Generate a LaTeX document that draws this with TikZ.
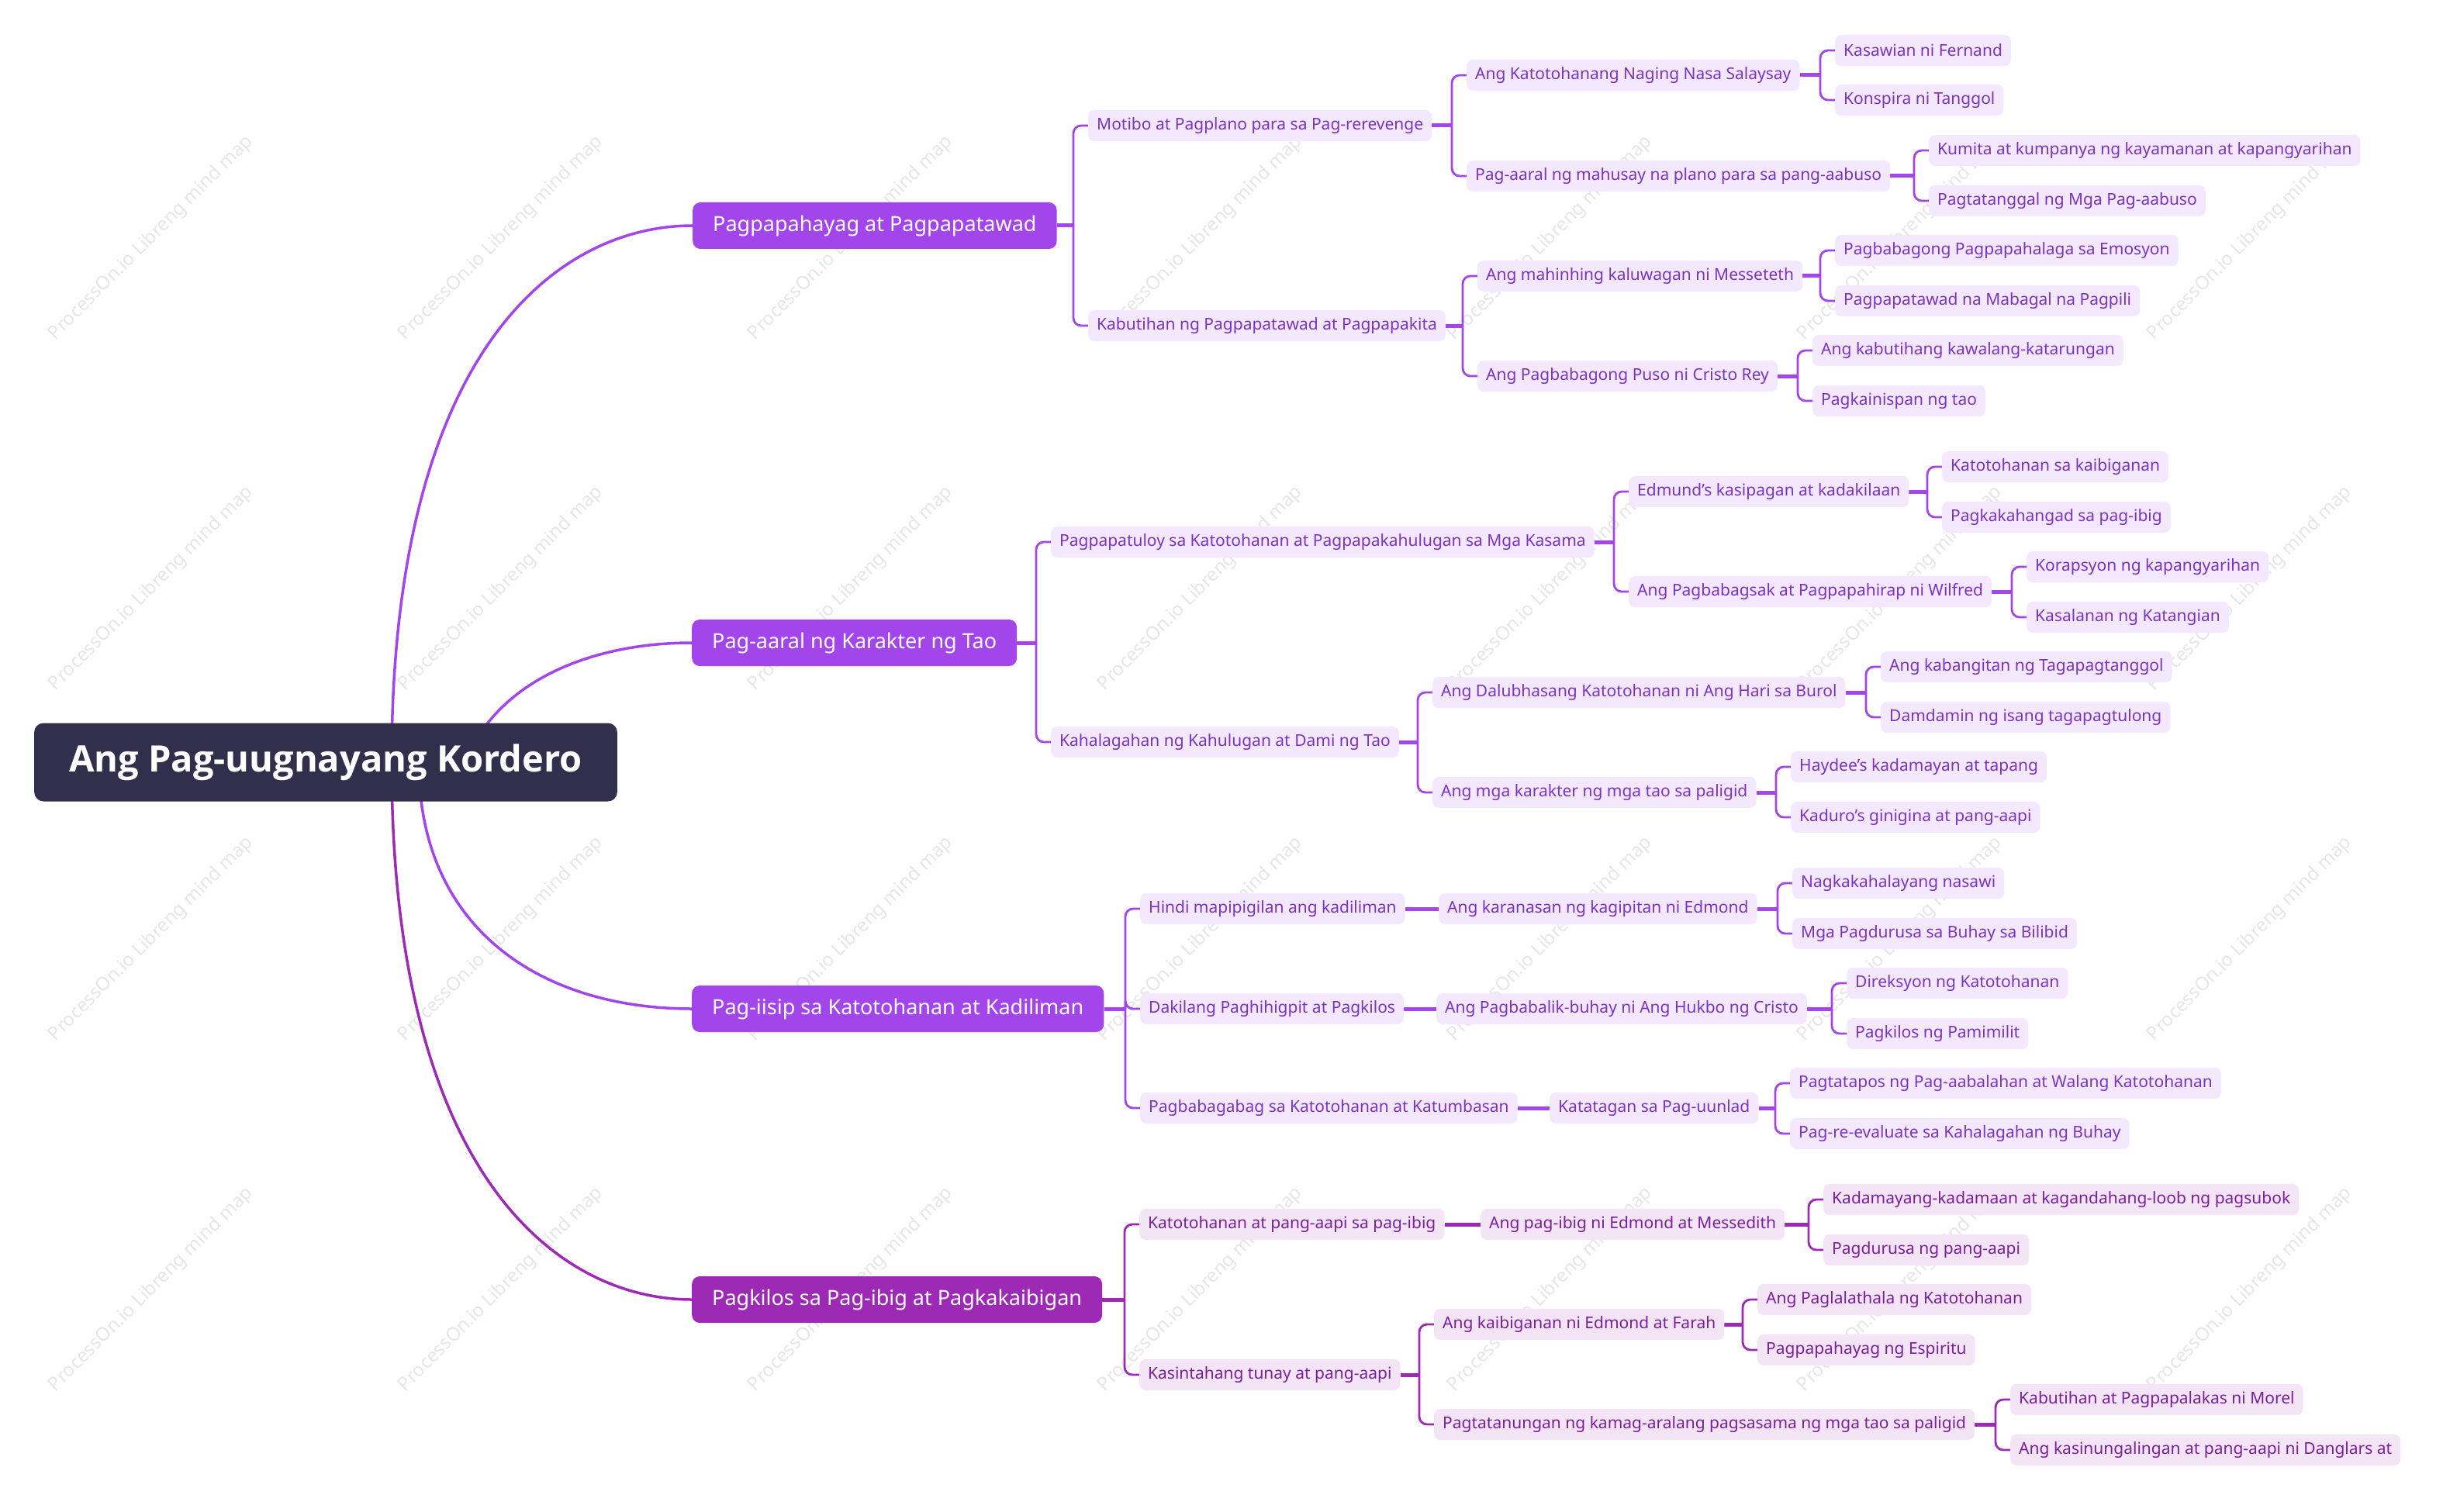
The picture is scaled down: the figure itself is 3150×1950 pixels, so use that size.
\documentclass[tikz,border=0pt]{standalone}
\usepackage{fontspec}
\setmainfont{Noto Sans}
\newfontfamily\rootfont{Open Sans}
\usetikzlibrary{calc,backgrounds}

\definecolor{brA}{HTML}{A246EB}
\definecolor{brAfill}{HTML}{F3E8FD}
\definecolor{brAtext}{HTML}{7B33C2}
\definecolor{brB}{HTML}{9C2AB5}
\definecolor{brBfill}{HTML}{F3E5F6}
\definecolor{brBtext}{HTML}{7A1F9C}
\definecolor{rootfill}{HTML}{312F4B}
\definecolor{wmark}{HTML}{E6E6E6}

\begin{document}
\begin{tikzpicture}[x=1pt, y=-1pt,
    root/.style={fill=rootfill, text=white, rounded corners=12pt,
      font=\rootfont\bfseries\fontsize{47}{52}\selectfont, inner xsep=45pt, minimum height=101pt},
    topic/.style={anchor=west, fill=brA, text=white, rounded corners=10pt,
      font=\fontsize{27}{32}\selectfont, inner xsep=26pt, minimum height=60pt},
    sub/.style={anchor=west, fill=brAfill, text=brAtext, rounded corners=8pt,
      font=\fontsize{21}{25}\selectfont, inner xsep=11pt, minimum height=40pt},
    subb/.style={sub, fill=brBfill, text=brBtext},
    curve/.style={line width=3.5pt},
    stub/.style={line width=5pt},
    link/.style={line width=2.8pt, rounded corners=10pt},
    wm/.style={rotate=45, text=wmark, font=\fontsize{24}{24}\selectfont}]
  \useasboundingbox (0,0) rectangle (3150,1950);

  % root and main topics
  \node[root] (r) at (420,983) {Ang Pag-uugnayang Kordero};
  \node[topic] (t1) at (893,291) {Pagpapahayag at Pagpapatawad};
  \node[topic] (t2) at (892,829) {Pag-aaral ng Karakter ng Tao};
  \node[topic] (t3) at (892,1301) {Pag-iisip sa Katotohanan at Kadiliman};
  \node[topic, fill=brB] (t4) at (892,1676) {Pagkilos sa Pag-ibig at Pagkakaibigan};

  % branch 1
  \node[sub] (a1) at (1403,162) {Motibo at Pagplano para sa Pag-rerevenge};
  \node[sub] (a2) at (1403,420) {Kabutihan ng Pagpapatawad at Pagpapakita};
  \node[sub] (a11) at (1891,97) {Ang Katotohanang Naging Nasa Salaysay};
  \node[sub] (a12) at (1891,227) {Pag-aaral ng mahusay na plano para sa pang-aabuso};
  \node[sub] (a111) at (2366,65) {Kasawian ni Fernand};
  \node[sub] (a112) at (2366,129) {Konspira ni Tanggol};
  \node[sub] (a121) at (2487,194) {Kumita at kumpanya ng kayamanan at kapangyarihan};
  \node[sub] (a122) at (2487,259) {Pagtatanggal ng Mga Pag-aabuso};
  \node[sub] (a21) at (1905,356) {Ang mahinhing kaluwagan ni Messeteth};
  \node[sub] (a22) at (1905,485) {Ang Pagbabagong Puso ni Cristo Rey};
  \node[sub] (a211) at (2366,323) {Pagbabagong Pagpapahalaga sa Emosyon};
  \node[sub] (a212) at (2366,388) {Pagpapatawad na Mabagal na Pagpili};
  \node[sub] (a221) at (2337,452) {Ang kabutihang kawalang-katarungan};
  \node[sub] (a222) at (2337,517) {Pagkainispan ng tao};

  % branch 2
  \node[sub] (b1) at (1355,699) {Pagpapatuloy sa Katotohanan at Pagpapakahulugan sa Mga Kasama};
  \node[sub] (b2) at (1355,957) {Kahalagahan ng Kahulugan at Dami ng Tao};
  \node[sub] (b11) at (2100,634) {Edmund's kasipagan at kadakilaan};
  \node[sub] (b12) at (2100,763) {Ang Pagbabagsak at Pagpapahirap ni Wilfred};
  \node[sub] (b111) at (2504,602) {Katotohanan sa kaibiganan};
  \node[sub] (b112) at (2504,667) {Pagkakahangad sa pag-ibig};
  \node[sub] (b121) at (2613,731) {Korapsyon ng kapangyarihan};
  \node[sub] (b122) at (2613,796) {Kasalanan ng Katangian};
  \node[sub] (b21) at (1847,893) {Ang Dalubhasang Katotohanan ni Ang Hari sa Burol};
  \node[sub] (b22) at (1847,1022) {Ang mga karakter ng mga tao sa paligid};
  \node[sub] (b211) at (2425,860) {Ang kabangitan ng Tagapagtanggol};
  \node[sub] (b212) at (2425,925) {Damdamin ng isang tagapagtulong};
  \node[sub] (b221) at (2309,989) {Haydee's kadamayan at tapang};
  \node[sub] (b222) at (2309,1054) {Kaduro's ginigina at pang-aapi};

  % branch 3
  \node[sub] (c1) at (1470,1172) {Hindi mapipigilan ang kadiliman};
  \node[sub] (c2) at (1470,1301) {Dakilang Paghihigpit at Pagkilos};
  \node[sub] (c3) at (1470,1429) {Pagbabagabag sa Katotohanan at Katumbasan};
  \node[sub] (c11) at (1855,1172) {Ang karanasan ng kagipitan ni Edmond};
  \node[sub] (c21) at (1852,1301) {Ang Pagbabalik-buhay ni Ang Hukbo ng Cristo};
  \node[sub] (c31) at (1998,1429) {Katatagan sa Pag-uunlad};
  \node[sub] (c111) at (2311,1139) {Nagkakahalayang nasawi};
  \node[sub] (c112) at (2311,1204) {Mga Pagdurusa sa Buhay sa Bilibid};
  \node[sub] (c211) at (2381,1268) {Direksyon ng Katotohanan};
  \node[sub] (c212) at (2381,1333) {Pagkilos ng Pamimilit};
  \node[sub] (c311) at (2308,1397) {Pagtatapos ng Pag-aabalahan at Walang Katotohanan};
  \node[sub] (c312) at (2308,1462) {Pag-re-evaluate sa Kahalagahan ng Buhay};

  % branch 4
  \node[subb] (d1) at (1469,1579) {Katotohanan at pang-aapi sa pag-ibig};
  \node[subb] (d2) at (1469,1773) {Kasintahang tunay at pang-aapi};
  \node[subb] (d11) at (1909,1579) {Ang pag-ibig ni Edmond at Messedith};
  \node[subb] (d111) at (2351,1547) {Kadamayang-kadamaan at kagandahang-loob ng pagsubok};
  \node[subb] (d112) at (2351,1612) {Pagdurusa ng pang-aapi};
  \node[subb] (d21) at (1849,1708) {Ang kaibiganan ni Edmond at Farah};
  \node[subb] (d22) at (1849,1837) {Pagtatanungan ng kamag-aralang pagsasama ng mga tao sa paligid};
  \node[subb] (d211) at (2266,1676) {Ang Paglalathala ng Katotohanan};
  \node[subb] (d212) at (2266,1741) {Pagpapahayag ng Espiritu};
  \node[subb] (d221) at (2592,1805) {Kabutihan at Pagpapalakas ni Morel};
  \node[subb] (d222) at (2592,1870) {Ang kasinungalingan at pang-aapi ni Danglars at};

  \begin{scope}[on background layer]
    \fill[white] (0,0) rectangle (3150,1950);
    % watermark
    \foreach \i in {0,...,6}
      \foreach \j in {0,...,3}
        \node[wm] (wm-\i-\j) at ({195+451*\i},{307+452*\j}) {ProcessOn.io Libreng mind map};

    \coordinate (s1) at (505,983);
    \coordinate (s2) at (600,983);
    \coordinate (s3) at (540,983);
    \draw[curve, brA] (s1) .. controls (505,450) and (720,291) .. (t1.west);
    \draw[curve, brA] (s2) .. controls (640,880) and (760,829) .. (t2.west);
    \draw[curve, brA] (s3) .. controls (540,1200) and (700,1301) .. (t3.west);
    \draw[curve, brB] (s1) .. controls (505,1516) and (720,1676) .. (t4.west);

    \foreach \p/\c in {t1/a1, t1/a2, a1/a11, a1/a12, a11/a111, a11/a112, a12/a121, a12/a122,
        a2/a21, a2/a22, a21/a211, a21/a212, a22/a221, a22/a222,
        t2/b1, t2/b2, b1/b11, b1/b12, b11/b111, b11/b112, b12/b121, b12/b122,
        b2/b21, b2/b22, b21/b211, b21/b212, b22/b221, b22/b222,
        t3/c1, t3/c2, t3/c3, c11/c111, c11/c112, c21/c211, c21/c212, c31/c311, c31/c312} {
      \draw[stub, brA] (\p.east) -- ($(\p.east -| \c.west)+(-19,0)$);
      \draw[link, brA] ($(\p.east -| \c.west)+(-19,0)$) |- (\c.west);
    }
    \foreach \p/\c in {t4/d1, t4/d2, d11/d111, d11/d112, d2/d21, d2/d22,
        d21/d211, d21/d212, d22/d221, d22/d222} {
      \draw[stub, brB] (\p.east) -- ($(\p.east -| \c.west)+(-19,0)$);
      \draw[link, brB] ($(\p.east -| \c.west)+(-19,0)$) |- (\c.west);
    }
    \draw[stub, brA] (c1) -- (c11) (c2) -- (c21) (c3) -- (c31);
    \draw[stub, brB] (d1) -- (d11);
  \end{scope}
\end{tikzpicture}
\end{document}
